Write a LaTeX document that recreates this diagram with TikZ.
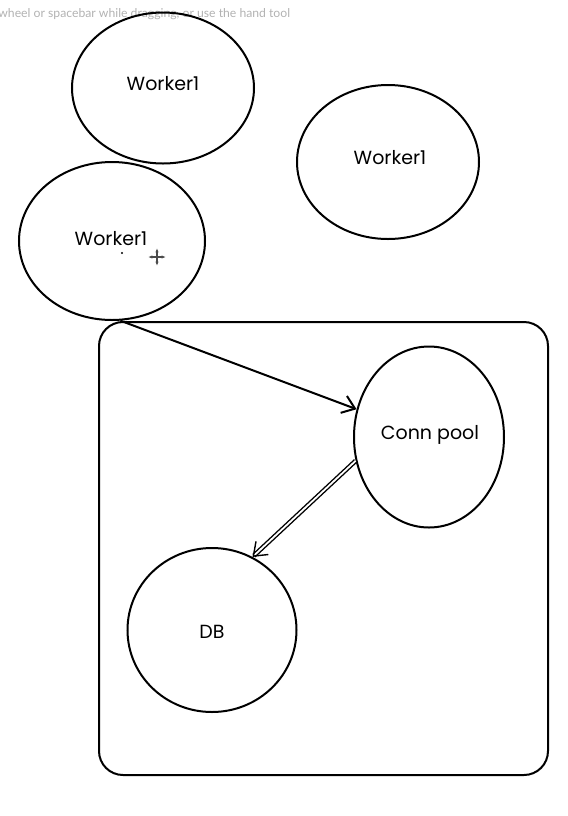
\documentclass[tikz,border=0pt]{standalone}
\usepackage{fontspec}
\setmainfont{Poppins}
\newfontfamily\tipfont{Lato}
\usetikzlibrary{positioning,shapes.geometric,arrows.meta}

\begin{document}
\begin{tikzpicture}[x=0.5pt, y=-0.5pt,
    every node/.style={inner sep=0pt, font=\fontsize{9.5}{11}\selectfont},
    worker/.style={draw, ellipse, line width=1pt},
    link/.style={line width=1pt, -{Straight Barb[length=6pt, width=9pt]}}]
    \useasboundingbox (0,0) rectangle (568,816);

    \node[anchor=west, text=black!30, font=\tipfont\fontsize{6.1}{7}\selectfont] (tip) at (-2,14) {wheel or spacebar while dragging, or use the hand tool};

    \node[worker, minimum width=91pt, minimum height=75.5pt] (w1) at (163,88) {};
    \node[worker, minimum width=91pt, minimum height=77pt] (w2) at (388,162) {};
    \node[worker, minimum width=93pt, minimum height=79pt] (w3) at (112,241) {};

    \node[draw, rounded corners=12pt, line width=1pt, minimum width=224.5pt, minimum height=226.5pt] (box) at (323.5,548.5) {};

    \node[worker, minimum width=75pt, minimum height=90.5pt] (pool) at (429,437) {};
    \node[worker, minimum width=84.5pt, minimum height=82pt] (db) at (212,630) {};

    \node (w1t) at (163,84) {Worker1};
    \node (w2t) at (390,158) {Worker1};
    \node (w3t) at (111,239) {Worker1};
    \node (poolt) at (430,435) {Conn pool};
    \node (dbt) at (212,632) {DB};

    \fill (122,253) circle (1.2);
    \coordinate (cur) at (157,257);
    \draw[black!70, line width=0.8pt, {Latex[length=2.2pt]}-{Latex[length=2.2pt]}] ([xshift=-4.5pt]cur) -- ([xshift=4.5pt]cur);
    \draw[black!70, line width=0.8pt, {Latex[length=2.2pt]}-{Latex[length=2.2pt]}] ([yshift=-4.5pt]cur) -- ([yshift=4.5pt]cur);

    \draw[link] (w3.-84) -- (pool.159);
    \draw[link, double, double distance=0.9pt, line width=0.7pt] (pool.198) -- (db.61);
\end{tikzpicture}
\end{document}
